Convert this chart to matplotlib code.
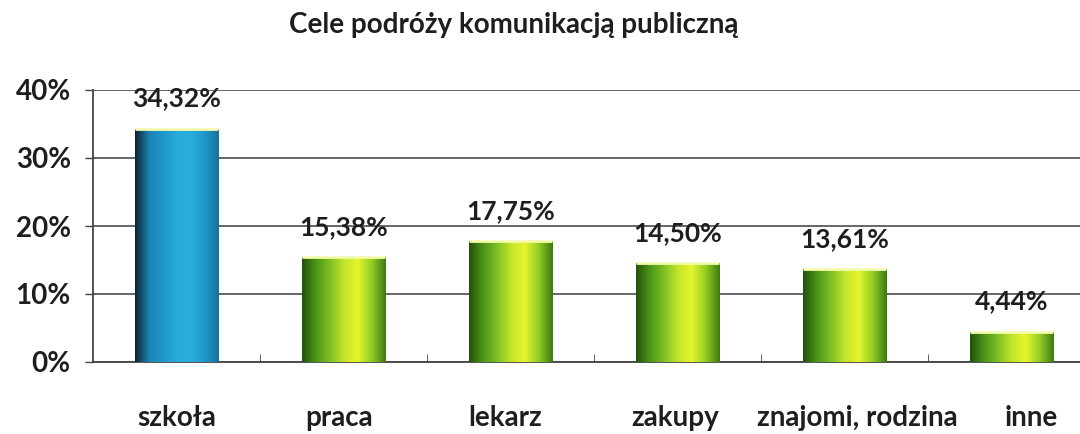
import matplotlib.pyplot as plt
import matplotlib.colors as mcolors
import matplotlib.transforms as mtransforms
from matplotlib.ticker import FixedLocator, PercentFormatter
import numpy as np

plt.rcParams['font.family'] = ['Lato', 'DejaVu Sans']

categories = ["szkoła", "praca", "lekarz", "zakupy", "znajomi, rodzina", "inne"]
values = [34.32, 15.38, 17.75, 14.50, 13.61, 4.44]
value_labels = ["34,32%", "15,38%", "17,75%", "14,50%", "13,61%", "4,44%"]
title = "Cele podróży komunikacją publiczną"

blue_cmap = mcolors.LinearSegmentedColormap.from_list(
	"blue", ["#0c2230", "#1a85b4", "#1e98cc", "#27aad8", "#2aaedc", "#1f98cc", "#17709a"])
green_cmap = mcolors.LinearSegmentedColormap.from_list(
	"green", ["#24500a", "#4c9518", "#7fc024", "#c2e52a", "#e6f52c", "#92cc24", "#3c7a12"])


def gradient_bar(ax, x, h, width, cmap):
	grad = np.linspace(0, 1, 256).reshape(1, -1)
	rect = plt.Rectangle((x - width / 2, 0), width, h, facecolor="none",
		edgecolor="none", zorder=3)
	ax.add_patch(rect)
	im = ax.imshow(grad, cmap=cmap, aspect="auto",
		extent=(x - width / 2, x + width / 2, 0, h), zorder=3)
	im.set_clip_path(rect)
	# light rim on top of the cylinder
	ax.plot([x - width / 2, x + width / 2], [h, h], color="#f4fbb0", lw=2,
		solid_capstyle="butt", zorder=4)


fig = plt.figure(figsize=(10.8, 4.34), dpi=100)
ax = fig.add_axes([93 / 1080, 1 - 362 / 434, 1 - 93 / 1080, (362 - 90) / 434])

x = np.arange(len(categories))
width = 0.5
for i, v in enumerate(values):
	cmap = blue_cmap if i == 0 else green_cmap
	gradient_bar(ax, x[i], v, width, cmap)
	ax.text(x[i], v + 3.3, value_labels[i], ha="center", va="baseline",
		fontsize=19, fontweight="bold", color="#1e1e1e", zorder=5)

ax.set_xlim(-0.5, 5.41)
ax.set_ylim(0, 40)
ax.set_yticks([0, 10, 20, 30, 40])
ax.yaxis.set_major_formatter(PercentFormatter(decimals=0))
ax.grid(axis="y", color="#5a5a5a", linewidth=1.3, zorder=1)
ax.set_axisbelow(True)

ax.set_xticks(x)
ax.set_xticklabels(categories)
ax.xaxis.set_minor_locator(FixedLocator(np.arange(0.5, 5.5, 1)))
ax.tick_params(axis="x", which="major", length=0, pad=31, labelsize=20)
ax.tick_params(axis="x", which="minor", direction="in", length=6, color="#444444")
ax.tick_params(axis="y", length=6, width=1, color="#444444", labelsize=20, pad=10)
for lbl in ax.get_xticklabels() + ax.get_yticklabels():
	lbl.set_fontweight("bold")
	lbl.set_color("#1e1e1e")

# the last two labels sit a little to the right of their bars
shifts = [0, -4, -5, -2, 13, 20]
for lbl, dx in zip(ax.get_xticklabels(), shifts):
	lbl.set_transform(lbl.get_transform() +
		mtransforms.ScaledTranslation(dx / 100, 0, fig.dpi_scale_trans))

for s in ["top", "right"]:
	ax.spines[s].set_visible(False)
ax.spines["left"].set_color("#444444")
ax.spines["bottom"].set_color("#444444")
ax.spines["left"].set_linewidth(1.3)
ax.spines["bottom"].set_linewidth(1.3)

fig.text(514 / 1080, 1 - 33 / 434, title, ha="center", va="baseline",
	fontsize=20, fontweight="bold", color="#1e1e1e")

fig.savefig("out.png", dpi=100)
